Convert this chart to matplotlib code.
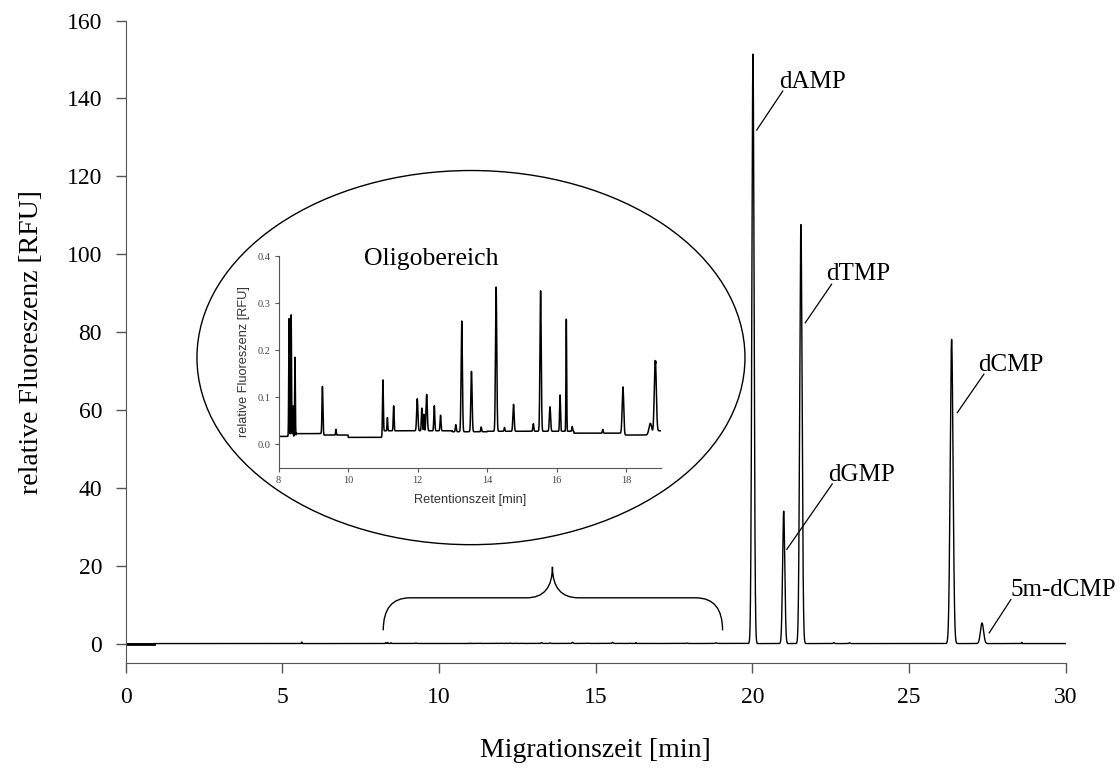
import numpy as np
import matplotlib
matplotlib.use('Agg')
import matplotlib.pyplot as plt
from matplotlib.patches import Ellipse, PathPatch
from matplotlib.path import Path

plt.rcParams['font.family'] = ['Liberation Serif', 'DejaVu Serif']

# Main nucleotide peaks: name, migration time [min], height [RFU], width (sigma) [min]
peak_names = ['dAMP', 'dGMP', 'dTMP', 'dCMP', '5m-dCMP']
peak_times = [20.02, 21.00, 21.55, 26.36, 27.33]
peak_heights = [151.4, 34.0, 107.6, 78.1, 5.3]
peak_sigmas = [0.035, 0.035, 0.038, 0.045, 0.05]

# Small blips outside the oligo region
minor_times = [5.62, 22.6, 23.1, 28.6]
minor_heights = [0.4, 0.25, 0.2, 0.3]
minor_sigmas = [0.01, 0.02, 0.02, 0.01]

# Oligo region peaks (inset)
oligo_times = [8.30, 8.36, 8.41, 8.47, 9.26, 9.65, 11.00, 11.13, 11.31, 11.99,
               12.12, 12.18, 12.26, 12.48, 12.66, 13.10, 13.27, 13.55, 13.83, 14.26,
               14.50, 14.76, 15.33, 15.54, 15.81, 16.10, 16.28, 16.45, 17.33, 17.91,
               18.70, 18.84]
oligo_heights = [0.250, 0.258, 0.065, 0.168, 0.100, 0.012, 0.108, 0.028, 0.053, 0.068,
                 0.048, 0.035, 0.077, 0.053, 0.033, 0.015, 0.235, 0.128, 0.010, 0.306,
                 0.008, 0.057, 0.016, 0.298, 0.052, 0.077, 0.238, 0.010, 0.008, 0.098,
                 0.025, 0.158]
oligo_sigmas = [0.010, 0.010, 0.008, 0.010, 0.013, 0.010, 0.012, 0.010, 0.012, 0.018,
                0.013, 0.010, 0.018, 0.014, 0.014, 0.014, 0.018, 0.018, 0.012, 0.018,
                0.012, 0.018, 0.014, 0.018, 0.018, 0.013, 0.010, 0.012, 0.012, 0.022,
                0.040, 0.028]

# Baseline levels: segment start, segment end, level [RFU]
base_start = [0.0, 0.9, 8.0, 8.5, 9.3, 10.0, 11.0, 13.0, 14.0, 16.5, 17.95, 18.85, 19.1]
base_end = [0.9, 8.0, 8.5, 9.3, 10.0, 11.0, 13.0, 14.0, 16.5, 17.95, 18.85, 19.1, 30.0]
base_level = [-0.12, 0.0, 0.017, 0.023, 0.020, 0.015, 0.029, 0.027, 0.028, 0.024, 0.020, 0.029, 0.0]

# Build the electropherogram trace
t = np.arange(0, 30.0005, 0.002)
signal = np.zeros_like(t)
for s, e, lv in zip(base_start, base_end, base_level):
    signal[(t >= s) & (t < e)] = lv
for tt, hh, ss in zip(peak_times + minor_times + oligo_times,
                      peak_heights + minor_heights + oligo_heights,
                      peak_sigmas + minor_sigmas + oligo_sigmas):
    signal += hh * np.exp(-0.5 * ((t - tt) / ss) ** 2)

fig = plt.figure(figsize=(11.2, 7.69), dpi=100)
ax = fig.add_axes([0.1122, 0.1378, 0.8393, 0.8354])
ax.plot(t, signal, color='black', lw=1.0)
ax.plot(t[t < 0.9], signal[t < 0.9], color='black', lw=2.0)
ax.set_xlim(0, 30)
ax.set_ylim(-5, 160)
ax.set_xticks(range(0, 31, 5))
ax.set_yticks(range(0, 161, 20))
for side in ['top', 'right']:
    ax.spines[side].set_visible(False)
for side in ['left', 'bottom']:
    ax.spines[side].set_color('#555555')
ax.tick_params(direction='out', length=7, width=1, color='#555555', labelsize=17, pad=10)
ax.set_xlabel('Migrationszeit [min]', fontsize=20, labelpad=22)
ax.set_ylabel('relative Fluoreszenz [RFU]', fontsize=20, labelpad=16)

# Peak labels with leader lines
label_pos = {'dAMP': (20.86, 142.7), 'dGMP': (22.41, 41.8), 'dTMP': (22.35, 93.4),
             'dCMP': (27.19, 70.1), '5m-dCMP': (28.25, 12.3)}
leaders = {'dAMP': ((20.97, 141.9), (20.14, 131.9)),
           'dGMP': ((22.55, 41.0), (21.10, 24.2)),
           'dTMP': ((22.53, 92.3), (21.69, 82.4)),
           'dCMP': ((27.39, 69.2), (26.54, 59.3)),
           '5m-dCMP': ((28.25, 11.3), (27.56, 2.75))}
for name in peak_names:
    x, y = label_pos[name]
    ax.text(x, y, name, fontsize=18, ha='left', va='baseline', clip_on=False)
    (x0, y0), (x1, y1) = leaders[name]
    ax.plot([x0, x1], [y0, y1], color='black', lw=0.9, clip_on=False)

# Curly brace over the oligo region
brace = Path([(8.22, 3.4), (8.22, 11.75), (9.07, 11.75),
              (12.8, 11.75),
              (13.62, 11.75), (13.62, 19.7),
              (13.62, 11.75), (14.45, 11.75),
              (18.2, 11.75),
              (19.05, 11.75), (19.05, 3.4)],
             [Path.MOVETO, Path.CURVE3, Path.CURVE3,
              Path.LINETO,
              Path.CURVE3, Path.CURVE3,
              Path.CURVE3, Path.CURVE3,
              Path.LINETO,
              Path.CURVE3, Path.CURVE3])
ax.add_patch(PathPatch(brace, facecolor='none', edgecolor='black', lw=1.0))

# Ellipse around the inset
ax.add_patch(Ellipse((11.02, 73.45), 17.49, 96.1, facecolor='none', edgecolor='black', lw=1.0))

# Inset: oligo region
ins = fig.add_axes([0.2488, 0.3914, 0.3412, 0.2757])
ins.patch.set_alpha(0)
ins.plot(t, signal, color='black', lw=1.1)
ins.set_xlim(8, 19)
ins.set_ylim(-0.05, 0.4)
ins.set_xticks(range(8, 19, 2))
ins.set_yticks([0.0, 0.1, 0.2, 0.3, 0.4])
ins.set_yticklabels(['0.0', '0.1', '0.2', '0.3', '0.4'])
for side in ['top', 'right']:
    ins.spines[side].set_visible(False)
for side in ['left', 'bottom']:
    ins.spines[side].set_color('#555555')
ins.tick_params(direction='out', length=3, width=0.8, color='#555555', labelsize=7.5,
                labelcolor='#444444', pad=3)
ins.set_xlabel('Retentionszeit [min]', fontsize=9.2, family=['Liberation Sans', 'DejaVu Sans'],
               color='#333333', labelpad=6)
ins.set_ylabel('relative Fluoreszenz [RFU]', fontsize=9.2, family=['Liberation Sans', 'DejaVu Sans'],
               color='#333333', labelpad=5)
ins.text(0.40, 0.985, 'Oligobereich', transform=ins.transAxes, fontsize=18.5,
         ha='center', va='center')

fig.savefig('out.png', dpi=100)
